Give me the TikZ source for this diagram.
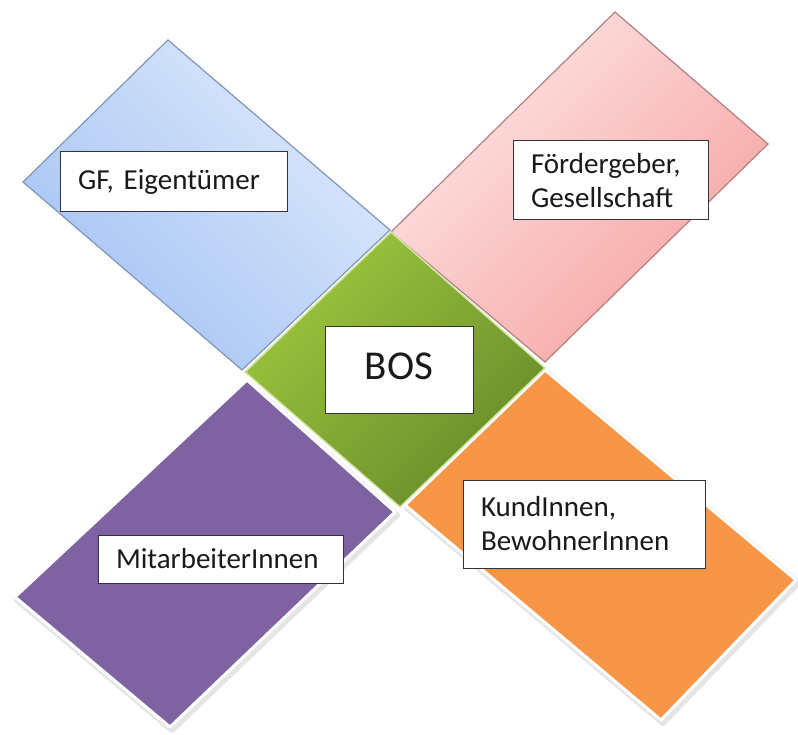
\documentclass[tikz,border=0pt]{standalone}
\usepackage{fontspec}
\setmainfont[WordSpace=0.6]{Carlito}
\frenchspacing
\definecolor{bluelight}{HTML}{DDE9FC}
\definecolor{bluedark}{HTML}{A4C3F3}
\definecolor{blueedge}{HTML}{7F96B6}
\definecolor{pinklight}{HTML}{FDE5E5}
\definecolor{pinkdark}{HTML}{F7A2A2}
\definecolor{pinkedge}{HTML}{B08080}
\definecolor{greenlight}{HTML}{9DC63F}
\definecolor{greendark}{HTML}{698C2A}
\definecolor{greenedge}{HTML}{D5E6A8}
\definecolor{purplefill}{HTML}{7F62A1}
\definecolor{orangefill}{HTML}{F79646}
\definecolor{textcol}{HTML}{1A1A1A}
\begin{document}
\begin{tikzpicture}[x=1pt,y=-1pt,
  label/.style={draw=black!80, line width=1pt, fill=white, text=textcol,
    font=\fontsize{29}{34}\selectfont, align=left, inner xsep=18pt, inner ysep=0pt},
  softshadow/.style={draw=black!25, line width=6pt, line join=round, opacity=0.4},
  whiteedge/.style={draw=white, line width=3pt, line join=round}]
\useasboundingbox (0,0) rectangle (798,735);

% corner coordinates
\coordinate (bT) at (168,40);  \coordinate (bR) at (390,230);
\coordinate (bB) at (242,370); \coordinate (bL) at (23,182);
\coordinate (pL) at (391,232); \coordinate (pT) at (615,12);
\coordinate (pR) at (768,144); \coordinate (pB) at (545,362);
\coordinate (gT) at (391,232); \coordinate (gR) at (545,368);
\coordinate (gB) at (400,507); \coordinate (gL) at (245,372);
\coordinate (uT) at (247,380); \coordinate (uR) at (395,512);
\coordinate (uB) at (170,727); \coordinate (uL) at (15,597);
\coordinate (oT) at (545,370); \coordinate (oR) at (796,580);
\coordinate (oB) at (661,720); \coordinate (oL) at (405,505);

% blue
\shade[top color=bluelight, bottom color=bluedark, shading angle=-45]
  (bT) -- (bR) -- (bB) -- (bL) -- cycle;
\draw[blueedge, line width=1.2pt, line join=miter] (bT) -- (bR) -- (bB) -- (bL) -- cycle;
% pink
\shade[top color=pinklight, bottom color=pinkdark, shading angle=45]
  (pL) -- (pT) -- (pR) -- (pB) -- cycle;
\draw[pinkedge, line width=1.2pt, line join=miter] (pL) -- (pT) -- (pR) -- (pB) -- cycle;
% purple
\draw[softshadow] ([shift={(2,3)}]uT) -- ([shift={(2,3)}]uR) -- ([shift={(2,3)}]uB) -- ([shift={(2,3)}]uL) -- cycle;
\fill[purplefill] (uT) -- (uR) -- (uB) -- (uL) -- cycle;
\draw[whiteedge] (uT) -- (uR) -- (uB) -- (uL) -- cycle;
% orange
\draw[softshadow] ([shift={(2,3)}]oT) -- ([shift={(2,3)}]oR) -- ([shift={(2,3)}]oB) -- ([shift={(2,3)}]oL) -- cycle;
\fill[orangefill] (oT) -- (oR) -- (oB) -- (oL) -- cycle;
\draw[whiteedge] (oT) -- (oR) -- (oB) -- (oL) -- cycle;
% green
\shade[top color=greenlight, bottom color=greendark, shading angle=45]
  (gT) -- (gR) -- (gB) -- (gL) -- cycle;
\draw[greenedge, line width=1.5pt, line join=miter] (gT) -- (gR) -- (gB) -- (gL) -- cycle;

% labels
\node[label, text width=191pt, minimum height=60pt] (gf) at (173.5,182) {GF, Eigentümer};
\node[label, text width=159pt, minimum height=79pt] (fg) at (610.5,180.5) {Fördergeber,\\Gesellschaft};
\node[label, text width=209pt, minimum height=48pt] (mi) at (220.5,559) {MitarbeiterInnen};
\node[label, text width=206pt, minimum height=88pt] (ku) at (584,524) {KundInnen,\\BewohnerInnen};
\node[draw=black!80, line width=1pt, fill=white, text=textcol, font=\fontsize{41}{48}\selectfont,
  minimum width=148pt, minimum height=86pt, inner sep=0pt] (bos) at (399,370) {\raisebox{7pt}{BOS}};
\end{tikzpicture}
\end{document}
